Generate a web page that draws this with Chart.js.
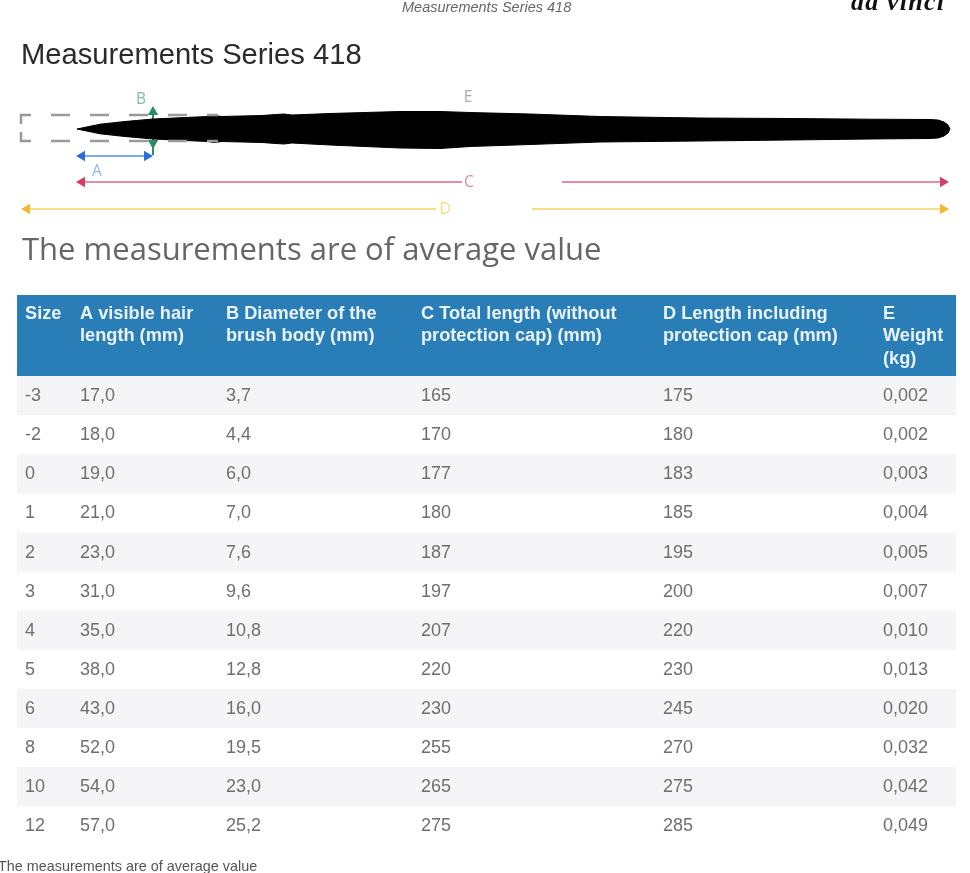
<!DOCTYPE html>
<html>
<head>
<meta charset="utf-8">
<title>Measurements Series 418</title>
<script src="https://cdn.jsdelivr.net/npm/chart.js@4"></script>
<style>
  html, body { margin: 0; padding: 0; background: #fff; overflow: hidden; }
  body { position: relative; width: 970px; height: 873px; }
  canvas { position: absolute; filter: blur(0.4px); }
  #brushChart { left: 0; top: 85px; }
  #tableChart { left: 17px; top: 295px; }
  .txt { position: absolute; white-space: nowrap; line-height: 1; filter: blur(0.3px); }
  #running { left: 402px; top: -1px; font: italic 14.5px "Liberation Sans"; color: #666; }
  #logo { left: 851px; top: -13px; font: italic bold 26px "Liberation Serif"; letter-spacing: 1.2px; color: #111; }
  #title { left: 21px; top: 38px; font: 29.2px "Liberation Sans"; color: #2b2b2b; }
  #subtitle { left: 22px; top: 227px; font: 31px "Open Sans"; color: #666; }
  #note { left: -2px; top: 858px; font: 14.4px "Liberation Sans"; color: #555; }
</style>
</head>
<body>
<div class="txt" id="running">Measurements Series 418</div>
<div class="txt" id="logo">da vinci</div>
<div class="txt" id="title">Measurements Series 418</div>
<canvas id="brushChart" width="970" height="130"></canvas>
<div class="txt" id="subtitle">The measurements are of average value</div>
<canvas id="tableChart" width="939" height="550"></canvas>
<div class="txt" id="note">The measurements are of average value</div>

<script>
// table
const sizes = [-3, -2, 0, 1, 2, 3, 4, 5, 6, 8, 10, 12];
const hairLength = [17.0, 18.0, 19.0, 21.0, 23.0, 31.0, 35.0, 38.0, 43.0, 52.0, 54.0, 57.0];
const bodyDiameter = [3.7, 4.4, 6.0, 7.0, 7.6, 9.6, 10.8, 12.8, 16.0, 19.5, 23.0, 25.2];
const totalLength = [165, 170, 177, 180, 187, 197, 207, 220, 230, 255, 265, 275];
const capLength = [175, 180, 183, 185, 195, 200, 220, 230, 245, 270, 275, 285];
const weight = [0.002, 0.002, 0.003, 0.004, 0.005, 0.007, 0.010, 0.013, 0.020, 0.032, 0.042, 0.049];
const headerLines = [
  ["Size"],
  ["A visible hair", "length (mm)"],
  ["B Diameter of the", "brush body (mm)"],
  ["C Total length (without", "protection cap) (mm)"],
  ["D Length including", "protection cap (mm)"],
  ["E", "Weight", "(kg)"]
];

// brush outline (height above / below the brush axis)
const brushX = [77, 100, 125, 153, 185, 208, 214, 222, 262, 276, 284, 292, 330, 400, 440, 470, 530, 600, 700, 790, 870, 930, 938, 944, 948, 950];
const brushTop = [0, 4.8, 7.5, 10, 11.5, 12.5, 13.5, 12.5, 13.5, 14.5, 15, 14, 15.5, 17.5, 17.5, 16.5, 15, 12.5, 11, 10.5, 9.8, 9.5, 9, 7, 4, 0];
const brushBottom = [0, -4.8, -7.5, -10, -11.5, -12.5, -13.5, -12.5, -13.5, -14.5, -15, -14, -16, -19, -19.5, -17.5, -15.5, -13, -12, -11, -10, -9.5, -9, -7, -4, 0];

// dimension lines: x ends and height on the same scale
const capGuideX = [51, 218];
const capGuideY = [14, -12];
const capCornerX = [31, 21, 21];
const capCornerY = [14, 14, 5];
const capCornerLowX = [21, 21, 31];
const capCornerLowY = [-3, -12, -12];
const dimA = { x: [82, 147], y: -27 };
const dimB = { x: 153, y: [17, -14, -26] };
const dimC = { left: [82, 462], right: [562, 943], y: -53 };
const dimD = { left: [27, 436], right: [532, 943], y: -80 };
const dimLetters = [
  { text: "B", x: 141, y: 29, color: "#7fc0a4" },
  { text: "E", x: 468, y: 31, color: "#a8a8a8" },
  { text: "A", x: 97, y: -43, color: "#8db8e8" },
  { text: "C", x: 469, y: -54, color: "#e08aa4" },
  { text: "D", x: 445, y: -81, color: "#f3dc7a" }
];

const toPoints = (xs, ys) => xs.map((x, i) => ({ x: x, y: ys[i] }));
const comma = (v, d) => v.toFixed(d).replace(".", ",");

function arrowLine(points, color, lineColor, radius, rotation) {
  return {
    data: points,
    borderColor: lineColor,
    borderWidth: 2,
    pointStyle: "triangle",
    pointRadius: radius,
    pointRotation: rotation,
    pointBackgroundColor: color,
    pointBorderColor: color,
    pointBorderWidth: 0,
    fill: false
  };
}

const RED = "#d2415f", RED_LINE = "#e88ba2";
const YELLOW = "#f3b92f", YELLOW_LINE = "#f8dc8c";
const BLUE = "#2c6fd6", BLUE_LINE = "#79ade6";
const GREEN = "#2c8a68";

const guide = { borderColor: "#9a9a9a", borderWidth: 2.5, pointRadius: 0, fill: false };

new Chart(document.getElementById("brushChart"), {
  type: "line",
  data: {
    datasets: [
      Object.assign({ data: toPoints([capGuideX[0], capGuideX[1]], [capGuideY[0], capGuideY[0]]), borderDash: [19, 20] }, guide),
      Object.assign({ data: toPoints([capGuideX[0], capGuideX[1]], [capGuideY[1], capGuideY[1]]), borderDash: [19, 20] }, guide),
      Object.assign({ data: toPoints(capCornerX, capCornerY) }, guide),
      Object.assign({ data: toPoints(capCornerLowX, capCornerLowY) }, guide),
      {
        data: toPoints(brushX, brushTop),
        borderColor: "#000", borderWidth: 1, pointRadius: 0, backgroundColor: "#000", fill: "+1"
      },
      {
        data: toPoints(brushX, brushBottom),
        borderColor: "#000", borderWidth: 1, pointRadius: 0, fill: false
      },
      arrowLine(toPoints(dimA.x, [dimA.y, dimA.y]), BLUE, BLUE_LINE, 6, [-90, 90]),
      arrowLine(toPoints([dimB.x, dimB.x, dimB.x], dimB.y), GREEN, GREEN, [6, 6, 0], [0, 180, 0]),
      arrowLine(toPoints(dimC.left, [dimC.y, dimC.y]), RED, RED_LINE, [6, 0], -90),
      arrowLine(toPoints(dimC.right, [dimC.y, dimC.y]), RED, RED_LINE, [0, 6], 90),
      arrowLine(toPoints(dimD.left, [dimD.y, dimD.y]), YELLOW, YELLOW_LINE, [6, 0], -90),
      arrowLine(toPoints(dimD.right, [dimD.y, dimD.y]), YELLOW, YELLOW_LINE, [0, 6], 90)
    ]
  },
  options: {
    responsive: false,
    animation: false,
    parsing: { xAxisKey: "x", yAxisKey: "y" },
    layout: { padding: 0, autoPadding: false },
    plugins: { legend: { display: false }, tooltip: { enabled: false } },
    scales: {
      x: { type: "linear", min: 0, max: 970, display: false },
      y: { type: "linear", min: -86, max: 44, display: false }
    }
  },
  plugins: [{
    id: "dimLetters",
    afterDatasetsDraw(chart) {
      const ctx = chart.ctx;
      ctx.save();
      ctx.font = '15.5px "Open Sans"';
      ctx.textAlign = "center";
      ctx.textBaseline = "middle";
      dimLetters.forEach(l => {
        ctx.fillStyle = l.color;
        ctx.fillText(l.text, chart.scales.x.getPixelForValue(l.x), chart.scales.y.getPixelForValue(l.y));
      });
      ctx.restore();
    }
  }]
});

const headerRows = 2.06;
const rowBands = [{ data: [[-headerRows, 0]], backgroundColor: "#2a7eb8" }];
sizes.forEach((s, i) => {
  rowBands.push({ data: [[i, i + 1]], backgroundColor: i % 2 === 0 ? "#f5f4f6" : "#ffffff" });
});

const columnStart = [8, 63, 209, 404, 646, 866];
const columns = [
  sizes.map(String),
  hairLength.map(v => comma(v, 1)),
  bodyDiameter.map(v => comma(v, 1)),
  totalLength.map(String),
  capLength.map(String),
  weight.map(v => comma(v, 3))
];

new Chart(document.getElementById("tableChart"), {
  type: "bar",
  data: { labels: ["table"], datasets: rowBands },
  options: {
    responsive: false,
    animation: false,
    grouped: false,
    barPercentage: 1,
    categoryPercentage: 1,
    layout: { padding: 0, autoPadding: false },
    plugins: { legend: { display: false }, tooltip: { enabled: false } },
    scales: {
      x: { display: false },
      col: { axis: "x", type: "linear", offset: false, min: 0, max: 939, display: false },
      y: { type: "linear", reverse: true, min: -headerRows, max: sizes.length, display: false }
    }
  },
  plugins: [{
    id: "cellText",
    afterDatasetsDraw(chart) {
      const ctx = chart.ctx;
      const col = chart.scales.col, y = chart.scales.y;
      ctx.save();
      ctx.textAlign = "left";
      ctx.textBaseline = "middle";

      ctx.font = 'bold 18.2px "Liberation Sans"';
      ctx.fillStyle = "#eaf3f9";
      headerLines.forEach((lines, c) => {
        lines.forEach((line, n) => {
          ctx.fillText(line, col.getPixelForValue(columnStart[c]), y.getPixelForValue(-headerRows) + 19 + n * 22.4);
        });
      });

      ctx.font = '18px "Liberation Sans"';
      ctx.fillStyle = "#6f6f6f";
      columns.forEach((cells, c) => {
        cells.forEach((cell, r) => {
          ctx.fillText(cell, col.getPixelForValue(columnStart[c]), y.getPixelForValue(r + 0.5) + 1);
        });
      });
      ctx.restore();
    }
  }]
});
</script>
</body>
</html>
